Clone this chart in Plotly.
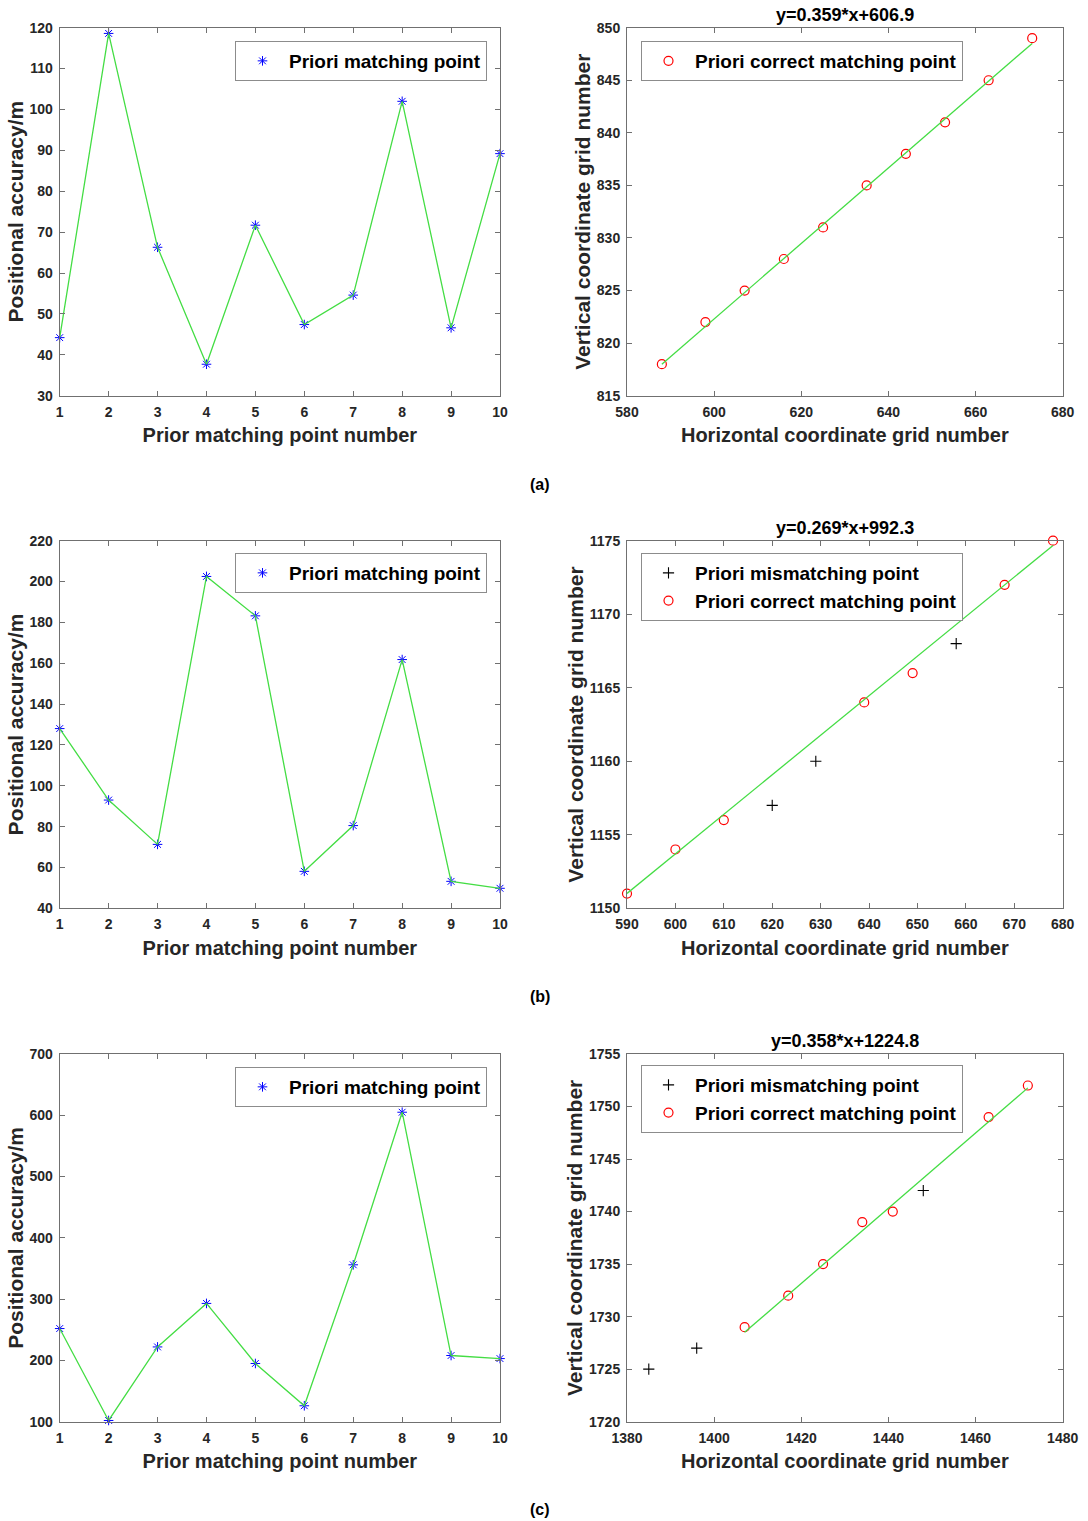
import plotly.graph_objects as go

# ---------------- data ----------------
point_no = [1, 2, 3, 4, 5, 6, 7, 8, 9, 10]
acc_a = [44.2, 118.6, 66.3, 37.7, 71.7, 47.4, 54.6, 102.0, 46.6, 89.2]
acc_b = [128.0, 93.0, 71.3, 202.5, 183.2, 58.1, 80.5, 161.8, 53.2, 49.8]
acc_c = [252, 102, 222, 293, 195, 126, 356, 605, 208, 203]

corr_x_a = [588, 598, 607, 616, 625, 635, 644, 653, 663, 673]
corr_y_a = [818, 822, 825, 828, 831, 835, 838, 841, 845, 849]
mis_x_a, mis_y_a = [], []

corr_x_b = [590, 600, 610, 639, 649, 668, 678]
corr_y_b = [1151, 1154, 1156, 1164, 1166, 1172, 1175]
mis_x_b = [620, 629, 658]
mis_y_b = [1157, 1160, 1168]

corr_x_c = [1407, 1417, 1425, 1434, 1441, 1463, 1472]
corr_y_c = [1729, 1732, 1735, 1739, 1740, 1749, 1752]
mis_x_c = [1385, 1396, 1448]
mis_y_c = [1725, 1727, 1742]

slopes = [0.359, 0.269, 0.358]
intercepts = [606.9, 992.3, 1224.8]
fit_titles = ["y=0.359*x+606.9", "y=0.269*x+992.3", "y=0.358*x+1224.8"]
panel_labels = ["(a)", "(b)", "(c)"]

left_yranges = [[30, 120], [40, 220], [100, 700]]
left_dticks = [10, 20, 100]
right_xranges = [[580, 680], [590, 680], [1380, 1480]]
right_xdticks = [20, 10, 20]
right_yranges = [[815, 850], [1150, 1175], [1720, 1755]]

# ---------------- layout geometry ----------------
W, H = 1088, 1521
FONT = "Liberation Sans, Arial, sans-serif"
TXT = "#1a1a1a"
AX = "#707070"
GREEN = "#44dd44"
rows_px = [(27.7, 395.7), (540.7, 908.3), (1054, 1421.7)]
left_dom = [59.7 / W, 500 / W]
right_dom = [627 / W, 1062.7 / W]
title_y_px = [15, 528, 1041]
label_y_px = [484, 996, 1509]
legend_left_top = [41, 553, 1067]
legend_right_top = [41, 553, 1065]

fig = go.Figure()
layout = dict(
    width=W, height=H,
    margin=dict(l=0, r=0, t=0, b=0),
    paper_bgcolor="white", plot_bgcolor="white",
    font=dict(family=FONT, color=TXT),
    annotations=[],
)

def axis_common():
    return dict(
        showline=True, linecolor=AX, linewidth=1, mirror="ticks",
        ticks="inside", ticklen=5, tickcolor=AX, tickwidth=1,
        showgrid=False, zeroline=False, ticklabelstandoff=3,
        tickfont=dict(family=FONT, size=14, color="#262626", weight="bold"),
        automargin=False,
    )

for r in range(3):
    top, bot = rows_px[r]
    ydom = [1 - bot / H, 1 - top / H]
    li = 2 * r + 1
    ri = 2 * r + 2
    lx = "x" if li == 1 else f"x{li}"
    ly = "y" if li == 1 else f"y{li}"
    rx = f"x{ri}"
    ry = f"y{ri}"
    lg_l = "legend" if r == 0 else f"legend{2 * r + 1}"
    lg_r = f"legend{2 * r + 2}"

    acc = [acc_a, acc_b, acc_c][r]
    # left panel
    fig.add_trace(go.Scatter(
        x=point_no, y=acc, mode="markers", name="Priori matching point",
        marker=dict(symbol="asterisk-open", size=8, color="blue",
                    line=dict(color="blue", width=1)),
        cliponaxis=False,
        xaxis=lx, yaxis=ly, legend=lg_l, showlegend=True))
    fig.add_trace(go.Scatter(
        x=point_no, y=acc, mode="lines", line=dict(color=GREEN, width=1.3),
        cliponaxis=False,
        xaxis=lx, yaxis=ly, showlegend=False, hoverinfo="skip"))

    # right panel
    cx = [corr_x_a, corr_x_b, corr_x_c][r]
    cy = [corr_y_a, corr_y_b, corr_y_c][r]
    mx = [mis_x_a, mis_x_b, mis_x_c][r]
    my = [mis_y_a, mis_y_b, mis_y_c][r]
    if mx:
        fig.add_trace(go.Scatter(
            x=mx, y=my, mode="markers", name="Priori mismatching point",
            marker=dict(symbol="cross-thin-open", size=8, color="black",
                        line=dict(color="black", width=1.1)),
            cliponaxis=False,
            xaxis=rx, yaxis=ry, legend=lg_r, showlegend=True))
    fig.add_trace(go.Scatter(
        x=cx, y=cy, mode="markers", name="Priori correct matching point",
        marker=dict(symbol="circle-open", size=9, color="red",
                    line=dict(color="red", width=1.2)),
        cliponaxis=False,
        xaxis=rx, yaxis=ry, legend=lg_r, showlegend=True))
    fx = [min(cx), max(cx)]
    fy = [slopes[r] * v + intercepts[r] for v in fx]
    fig.add_trace(go.Scatter(
        x=fx, y=fy, mode="lines", line=dict(color=GREEN, width=1.3),
        xaxis=rx, yaxis=ry, showlegend=False, hoverinfo="skip"))

    # axes
    xl = axis_common()
    xl.update(domain=left_dom, anchor=ly, range=[1, 10], dtick=1, tick0=1,
              title=dict(text="Prior matching point number", standoff=9,
                         font=dict(family=FONT, size=20, color="#262626", weight="bold")))
    yl = axis_common()
    yl.update(domain=ydom, anchor=lx, range=left_yranges[r], dtick=left_dticks[r],
              title=dict(text="Positional accuracy/m", standoff=0,
                         font=dict(family=FONT, size=21, color="#262626", weight="bold")))
    xr = axis_common()
    xr.update(domain=right_dom, anchor=ry, range=right_xranges[r], dtick=right_xdticks[r],
              title=dict(text="Horizontal coordinate grid number", standoff=9,
                         font=dict(family=FONT, size=20, color="#262626", weight="bold")))
    yr = axis_common()
    yr.update(domain=ydom, anchor=rx, range=right_yranges[r], dtick=5,
              title=dict(text="Vertical coordinate grid number", standoff=0,
                         font=dict(family=FONT, size=21, color="#262626", weight="bold")))
    layout["xaxis" if li == 1 else f"xaxis{li}"] = xl
    layout["yaxis" if li == 1 else f"yaxis{li}"] = yl
    layout[f"xaxis{ri}"] = xr
    layout[f"yaxis{ri}"] = yr

    # legends
    leg_common = dict(
        bgcolor="white", bordercolor="#8c8c8c", borderwidth=1,
        font=dict(family=FONT, size=19, color="black", weight="bold"),
        itemwidth=43, xanchor="left", yanchor="top", tracegroupgap=0,
    )
    ll = dict(leg_common); ll.update(x=235 / W, y=1 - legend_left_top[r] / H)
    lr = dict(leg_common); lr.update(x=641 / W, y=1 - legend_right_top[r] / H)
    layout[lg_l] = ll
    layout[lg_r] = lr

    # fit title
    layout["annotations"].append(dict(
        text=fit_titles[r], xref="paper", yref="paper",
        x=(right_dom[0] + right_dom[1]) / 2, y=1 - title_y_px[r] / H,
        xanchor="center", yanchor="middle", showarrow=False,
        font=dict(family=FONT, size=18, color="black", weight="bold")))
    # panel label
    layout["annotations"].append(dict(
        text=panel_labels[r], xref="paper", yref="paper",
        x=540 / W, y=1 - label_y_px[r] / H,
        xanchor="center", yanchor="middle", showarrow=False,
        font=dict(family=FONT, size=16, color="black", weight="bold")))

fig.update_layout(**layout)
fig.write_html("out.html")
